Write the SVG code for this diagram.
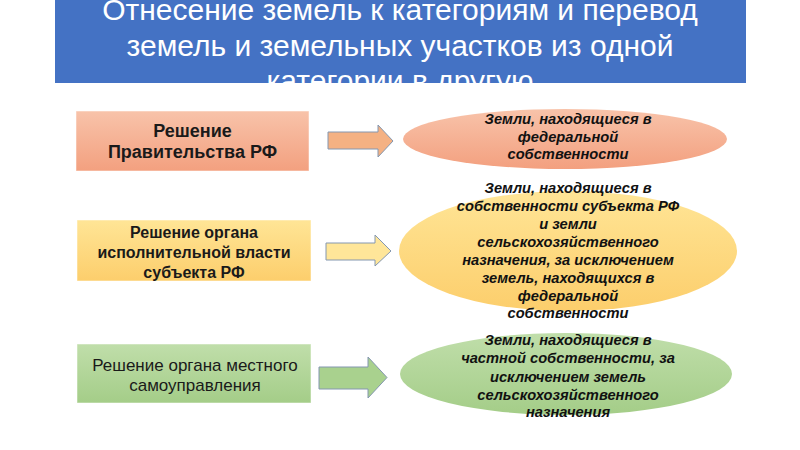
<svg xmlns="http://www.w3.org/2000/svg" width="800" height="450" viewBox="0 0 800 450">
<defs>
<linearGradient id="gR" x1="0" y1="0" x2="0" y2="1"><stop offset="0" stop-color="#f8c3aa"/><stop offset="1" stop-color="#f3a07f"/></linearGradient>
<linearGradient id="gY" x1="0" y1="0" x2="0" y2="1"><stop offset="0" stop-color="#ffe596"/><stop offset="1" stop-color="#fcce6c"/></linearGradient>
<linearGradient id="gG" x1="0" y1="0" x2="0" y2="1"><stop offset="0" stop-color="#c0deaa"/><stop offset="1" stop-color="#a4cd88"/></linearGradient>
<clipPath id="titleClip"><rect x="55" y="0" width="691" height="83"/></clipPath>
</defs>
<style>
.title{font-family:"Liberation Sans",Arial,sans-serif;font-size:30px;fill:#ffffff;text-anchor:middle}
.box{font-family:"Liberation Sans",Arial,sans-serif;font-size:16px;font-weight:bold;fill:#1a1a1a;text-anchor:middle}
.box1{font-size:18px}
.box3{font-family:"Liberation Sans",Arial,sans-serif;font-size:17px;fill:#1a1a1a;text-anchor:middle}
.ell{font-family:"Liberation Sans",Arial,sans-serif;font-size:14.7px;font-weight:bold;font-style:italic;fill:#111111;text-anchor:middle}
.arrow{stroke:#8497b0;stroke-width:1}
.rect{stroke:#ffffff;stroke-opacity:0.5;stroke-width:1}
</style>
<rect width="800" height="450" fill="#ffffff"/>
<g id="title">
<rect x="55" y="0" width="691" height="83" fill="#4472c4"/>
<g clip-path="url(#titleClip)">
<text class="title" x="400" y="20">Отнесение земель к категориям и перевод</text>
<text class="title" x="400" y="56">земель и земельных участков из одной</text>
<text class="title" x="400" y="91">категории в другую</text>
</g>
</g>
<g id="box1">
<rect class="rect" x="76" y="111" width="233" height="60" fill="url(#gR)"/>
<text class="box box1" x="192.5" y="137">Решение</text>
<text class="box box1" x="192.5" y="158">Правительства РФ</text>
</g>
<g id="box2">
<rect class="rect" x="77" y="220" width="234" height="61" fill="url(#gY)"/>
<text class="box" x="194" y="238">Решение органа</text>
<text class="box" x="194" y="258">исполнительной власти</text>
<text class="box" x="194" y="278">субъекта РФ</text>
</g>
<g id="box3">
<rect class="rect" x="77" y="344" width="234" height="59" fill="url(#gG)"/>
<text class="box3" x="195" y="371">Решение органа местного</text>
<text class="box3" x="195" y="391">самоуправления</text>
</g>
<g id="ell1">
<ellipse cx="565" cy="139" rx="162" ry="30" fill="url(#gR)"/>
<text class="ell" x="568" y="124">Земли, находящиеся в</text>
<text class="ell" x="568" y="141.5">федеральной</text>
<text class="ell" x="568" y="159">собственности</text>
</g>
<g id="ell2">
<ellipse cx="568" cy="251" rx="169" ry="60" fill="url(#gY)"/>
<text class="ell" x="568" y="193">Земли, находящиеся в</text>
<text class="ell" x="568" y="211">собственности субъекта РФ</text>
<text class="ell" x="568" y="229">и земли</text>
<text class="ell" x="568" y="247">сельскохозяйственного</text>
<text class="ell" x="568" y="265">назначения, за исключением</text>
<text class="ell" x="568" y="283">земель, находящихся в</text>
<text class="ell" x="568" y="301">федеральной</text>
<text class="ell" x="568" y="318">собственности</text>
</g>
<g id="ell3">
<ellipse cx="566" cy="374" rx="166" ry="41" fill="url(#gG)"/>
<text class="ell" x="568" y="345">Земли, находящиеся в</text>
<text class="ell" x="568" y="363">частной собственности, за</text>
<text class="ell" x="568" y="382">исключением земель</text>
<text class="ell" x="568" y="400">сельскохозяйственного</text>
<text class="ell" x="568" y="417">назначения</text>
</g>
<g id="connectors">
<polygon class="arrow" fill="#f4b183" points="328,132 378,132 378,125 393,141 378,157 378,149 328,149"/>
<polygon class="arrow" fill="#ffe699" points="326,243 375,243 375,235 391,251 375,266 375,260 326,260"/>
<polygon class="arrow" fill="#a9d18e" points="319,367 368,367 368,357 387,377.5 368,398 368,389 319,389"/>
</g>
</svg>
